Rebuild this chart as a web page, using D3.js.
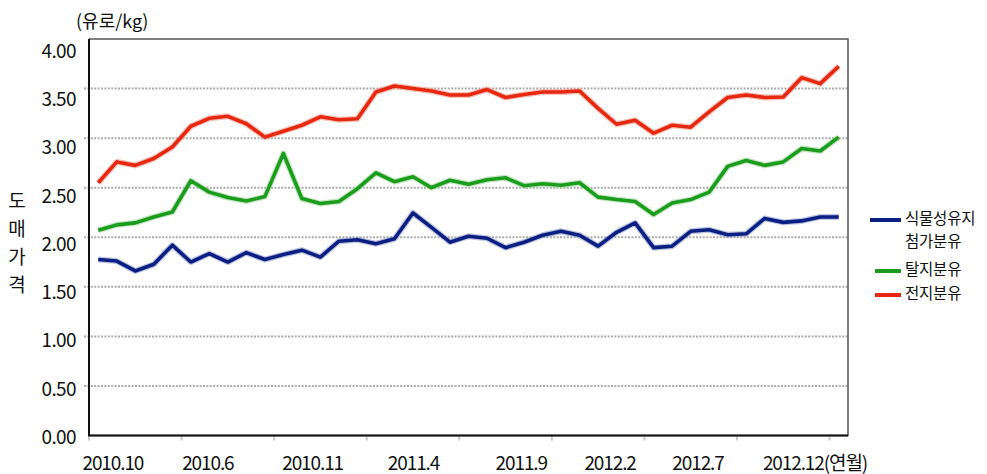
<!DOCTYPE html>
<html><head><meta charset="utf-8">
<script src="https://cdn.jsdelivr.net/npm/d3@7"></script>
<style>
body{margin:0;background:#fff;}
text{font-family:"Noto Sans CJK KR","Noto Sans",sans-serif;fill:#111;}
</style></head>
<body><svg id="c" width="987" height="474"></svg>
<script>
// ---- data ----
const seriesNames = ["식물성유지 첨가분유", "탈지분유", "전지분유"];
const blueValues = [1.775,1.76,1.66,1.727,1.92,1.75,1.835,1.75,1.845,1.775,1.825,1.87,1.80,1.96,1.975,1.935,1.985,2.245,2.10,1.95,2.01,1.99,1.895,1.95,2.02,2.06,2.02,1.91,2.05,2.145,1.895,1.91,2.06,2.075,2.025,2.035,2.19,2.15,2.165,2.205,2.205];
const greenValues = [2.07,2.125,2.145,2.205,2.255,2.57,2.455,2.40,2.365,2.41,2.845,2.39,2.34,2.36,2.49,2.65,2.56,2.61,2.50,2.575,2.535,2.58,2.60,2.52,2.54,2.525,2.55,2.405,2.38,2.36,2.23,2.345,2.38,2.455,2.715,2.775,2.725,2.76,2.895,2.87,3.01];
const redValues = [2.55,2.76,2.725,2.795,2.91,3.12,3.20,3.22,3.145,3.01,3.07,3.13,3.215,3.185,3.195,3.465,3.525,3.50,3.475,3.435,3.435,3.49,3.41,3.44,3.465,3.465,3.475,3.30,3.14,3.18,3.05,3.13,3.11,3.265,3.41,3.435,3.41,3.415,3.61,3.55,3.725];
const xTickLabels = ["2010.10","2010.6","2010.11","2011.4","2011.9","2012.2","2012.7","2012.12(연월)"];
const yTicks = [0,0.5,1,1.5,2,2.5,3,3.5,4];
const yUnit = "(유로/kg)";
const yTitle = ["도","매","가","격"];

// ---- layout ----
const L=89, R=848, T=39, B=435.5;
const xLabelSlots = [0.79,5.92,11.58,17.03,22.85,27.65,32.4,37.47]; // label centers in category units
const svg = d3.select("#c");
const idx = d3.range(blueValues.length);
const x = d3.scaleBand().domain(idx).range([L,R]);
const xc = i => x(i) + x.bandwidth()/2;
const xs = d3.scaleLinear().domain([0, idx.length-1]).range([xc(0), xc(idx.length-1)]);
const y = d3.scaleLinear().domain([0,4]).range([B,T]);
const yLab = d3.scaleLinear().domain([0,4]).range([437,51]);

// gridlines
svg.append("g").selectAll("line").data(yTicks.filter(v=>v>0&&v<4)).join("line")
  .attr("x1",L-5).attr("x2",R).attr("y1",d=>y(d)).attr("y2",d=>y(d))
  .attr("stroke","#ababab").attr("stroke-width",2).attr("stroke-dasharray","2,1.4");

// x tick marks
const tickIdx = d3.range(0, idx.length, 5);
svg.append("g").selectAll("line").data(tickIdx).join("line")
  .attr("x1",d=>x(d)).attr("x2",d=>x(d)).attr("y1",B+1).attr("y2",B+5)
  .attr("stroke","#c8c8c8").attr("stroke-width",2);

// frame
svg.append("path").attr("d",`M${L},${B}H${R}V${T}H${L}`).attr("fill","none").attr("stroke","#555").attr("stroke-width",1.5);
svg.append("path").attr("d",`M${L},${T}V${B}H${R}`).attr("fill","none").attr("stroke","#111").attr("stroke-width",2);

// y labels
svg.append("g").selectAll("text").data(yTicks).join("text")
  .attr("x",76).attr("y",d=>yLab(d)).attr("dy","0.36em").attr("text-anchor","end")
  .attr("font-size",19).attr("letter-spacing",-0.6).text(d=>d.toFixed(2));
svg.append("text").attr("x",76).attr("y",28).attr("font-size",18).text(yUnit);
svg.append("g").selectAll("text").data(yTitle).join("text")
  .attr("x",17).attr("y",(d,i)=>201+i*28).attr("dy","0.36em").attr("text-anchor","middle")
  .attr("font-size",19).text(d=>d);

// x labels
svg.append("g").selectAll("text").data(xTickLabels).join("text")
  .attr("x",(d,i)=> i===xTickLabels.length-1 ? xs(xLabelSlots[i]) - 29 : xs(xLabelSlots[i]))
  .attr("y",470).attr("text-anchor",(d,i)=> i===xTickLabels.length-1 ? "start":"middle")
  .attr("font-size",19).attr("letter-spacing",-1.1).text(d=>d);

// lines
const line = d3.line().x((d,i)=>xs(i)).y(d=>y(d));
const series = [
  {v:redValues, c:"#e62810", h:"#f59a8a"},
  {v:greenValues, c:"#1c9c1c", h:"#9fd69f"},
  {v:blueValues, c:"#0b1f82", h:"#8f9ccc"}
];
series.forEach(s=>{
  svg.append("path").attr("d",line(s.v)).attr("fill","none").attr("stroke",s.h).attr("stroke-width",6).attr("stroke-opacity",0.6).attr("stroke-linejoin","round");
  svg.append("path").attr("d",line(s.v)).attr("fill","none").attr("stroke",s.c).attr("stroke-width",3.6).attr("stroke-linejoin","round");
});

// legend
const leg = [
  {c:"#0b1f82", x1:870, y:220, lines:["식물성유지","첨가분유"]},
  {c:"#1c9c1c", x1:875, y:271, lines:["탈지분유"]},
  {c:"#e62810", x1:875, y:295, lines:["전지분유"]}
];
leg.forEach(l=>{
  svg.append("line").attr("x1",l.x1).attr("x2",901).attr("y1",l.y).attr("y2",l.y).attr("stroke",l.c).attr("stroke-width",4);
  const t = svg.append("text").attr("x",905).attr("y",l.y - 2).attr("font-size",15.5).attr("letter-spacing",-0.2);
  l.lines.forEach((s,j)=>{
    t.append("tspan").attr("x",905).attr("dy", j===0 ? "0.36em" : 23).text(s);
  });
});
</script></body></html>
